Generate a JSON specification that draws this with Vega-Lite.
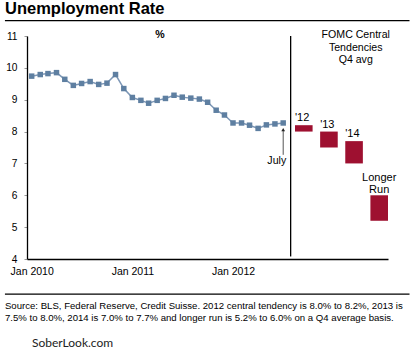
{
  "$schema": "https://vega.github.io/schema/vega-lite/v6.json",
  "width": 361,
  "height": 223,
  "autosize": {"type": "none"},
  "padding": {"left": 27, "top": 36, "right": 26, "bottom": 101},
  "background": "white",
  "title": {"text": "Unemployment Rate", "anchor": "start", "frame": "group", "dx": -22, "offset": 3, "font": "Liberation Sans", "fontSize": 16.5, "fontWeight": "bold", "color": "#000"},
  "config": {
    "view": {"stroke": null},
    "font": "Liberation Sans",
    "text": {"font": "Liberation Sans", "fontWeight": "normal"},
    "axisY": {"domainColor": "#000", "domainWidth": 1.3, "tickColor": "#999", "tickSize": 3, "tickCount": 8, "labelPadding": 7, "labelFont": "Liberation Sans", "labelFontSize": 10.2, "labelColor": "#000", "grid": false, "title": null},
    "axisX": {"domainColor": "#000", "domainWidth": 1.3, "ticks": false, "tickSize": 0, "tickCount": {"interval": "year"}, "labelExpr": "utcyear(datum.value) > 2012 ? '' : utcFormat(datum.value, '%b %Y')", "labelPadding": 7, "labelFont": "Liberation Sans", "labelFontSize": 10.5, "labelColor": "#000", "labelFlush": false, "grid": false, "title": null}
  },
  "resolve": {"scale": {"x": "independent"}},
  "layer": [
    {
      "data": {"values": [
        {"date": "2010-01-01", "rate": 9.74}, {"date": "2010-02-01", "rate": 9.79}, {"date": "2010-03-01", "rate": 9.82},
        {"date": "2010-04-01", "rate": 9.85}, {"date": "2010-05-01", "rate": 9.64}, {"date": "2010-06-01", "rate": 9.45},
        {"date": "2010-07-01", "rate": 9.51}, {"date": "2010-08-01", "rate": 9.57}, {"date": "2010-09-01", "rate": 9.48},
        {"date": "2010-10-01", "rate": 9.52}, {"date": "2010-11-01", "rate": 9.79}, {"date": "2010-12-01", "rate": 9.35},
        {"date": "2011-01-01", "rate": 9.07}, {"date": "2011-02-01", "rate": 8.98}, {"date": "2011-03-01", "rate": 8.89},
        {"date": "2011-04-01", "rate": 8.98}, {"date": "2011-05-01", "rate": 9.04}, {"date": "2011-06-01", "rate": 9.14},
        {"date": "2011-07-01", "rate": 9.08}, {"date": "2011-08-01", "rate": 9.05}, {"date": "2011-09-01", "rate": 9.02},
        {"date": "2011-10-01", "rate": 8.92}, {"date": "2011-11-01", "rate": 8.67}, {"date": "2011-12-01", "rate": 8.52},
        {"date": "2012-01-01", "rate": 8.27}, {"date": "2012-02-01", "rate": 8.27}, {"date": "2012-03-01", "rate": 8.20},
        {"date": "2012-04-01", "rate": 8.10}, {"date": "2012-05-01", "rate": 8.21}, {"date": "2012-06-01", "rate": 8.24},
        {"date": "2012-07-01", "rate": 8.27}
      ]},
      "encoding": {
        "x": {"field": "date", "type": "temporal",
              "scale": {"type": "utc", "domain": [{"year": 2009, "month": 12, "date": 15, "utc": true}, {"year": 2013, "month": 7, "date": 16, "utc": true}]}},
        "y": {"field": "rate", "type": "quantitative", "scale": {"domain": [4, 11], "nice": false, "zero": false}}
      },
      "layer": [
        {"mark": {"type": "line", "color": "#7D97B6", "strokeWidth": 1.5}},
        {"mark": {"type": "point", "shape": "square", "filled": true, "size": 30, "color": "#5E7FA1", "opacity": 1}},
        {"transform": [{"filter": "utcyear(datum.date) === 2012 && utcmonth(datum.date) === 6"}],
         "layer": [
          {"mark": {"type": "rule", "color": "#000", "strokeWidth": 1.3},
           "encoding": {"x": {"datum": {"year": 2012, "month": 7, "date": 28, "utc": true}, "type": "temporal"}, "y": {"datum": 11}, "y2": {"datum": 4.08}}},
          {"mark": {"type": "rule", "color": "#555", "strokeWidth": 1},
           "encoding": {"y": {"datum": 7.27}, "y2": {"datum": 8.04}}},
          {"mark": {"type": "point", "shape": "triangle-up", "filled": true, "size": 14, "color": "#222", "opacity": 1},
           "encoding": {"y": {"datum": 8.06}}},
          {"mark": {"type": "text", "text": "July", "font": "Liberation Sans", "fontSize": 10.6, "align": "right", "dx": 3, "baseline": "alphabetic", "fill": "#000"},
           "encoding": {"y": {"datum": 6.98}}},
          {"mark": {"type": "text", "text": "%", "font": "Liberation Sans", "fontSize": 10.6, "fontWeight": "bold", "align": "center", "baseline": "alphabetic", "fill": "#000"},
           "encoding": {"x": {"datum": {"year": 2011, "month": 4, "date": 11, "utc": true}, "type": "temporal"}, "y": {"datum": 10.93}}},
          {"mark": {"type": "text", "text": ["FOMC Central", "Tendencies", "Q4 avg"], "font": "Liberation Sans", "lineHeight": 12.3, "fontSize": 10.6, "align": "center", "baseline": "alphabetic", "fill": "#000"},
           "encoding": {"x": {"datum": {"year": 2013, "month": 3, "date": 21, "utc": true}, "type": "temporal"}, "y": {"datum": 10.93}}},
          {"mark": {"type": "rule", "color": "#000", "strokeWidth": 1.3},
           "encoding": {"x": {"datum": {"year": 2009, "month": 9, "date": 26, "utc": true}, "type": "temporal"}, "x2": {"datum": {"year": 2013, "month": 10, "date": 2, "utc": true}}, "y": {"datum": 11.48}}},
          {"mark": {"type": "rule", "color": "#000", "strokeWidth": 1.3},
           "encoding": {"x": {"datum": {"year": 2009, "month": 9, "date": 26, "utc": true}, "type": "temporal"}, "x2": {"datum": {"year": 2013, "month": 10, "date": 2, "utc": true}}, "y": {"datum": 2.90}}},
          {"mark": {"type": "text", "text": ["Source: BLS, Federal Reserve, Credit Suisse.  2012 central tendency is 8.0% to 8.2%, 2013 is", "7.5% to 8.0%, 2014 is 7.0% to 7.7% and longer run is 5.2% to 6.0% on a Q4 average basis."], "font": "Liberation Sans", "lineHeight": 12.3, "fontSize": 9.6, "align": "left", "baseline": "alphabetic", "fill": "#000"},
           "encoding": {"x": {"datum": {"year": 2009, "month": 9, "date": 26, "utc": true}, "type": "temporal"}, "y": {"datum": 2.43}}},
          {"mark": {"type": "text", "text": "SoberLook.com", "font": "Lato", "fontSize": 12, "align": "left", "baseline": "alphabetic", "fill": "#222"},
           "encoding": {"x": {"datum": {"year": 2010, "month": 1, "date": 2, "utc": true}, "type": "temporal"}, "y": {"datum": 1.23}}}
         ]}
      ]
    },
    {
      "data": {"values": [
        {"period": "'12", "low": 8.0, "high": 8.2},
        {"period": "'13", "low": 7.5, "high": 8.0},
        {"period": "'14", "low": 7.0, "high": 7.7},
        {"period": "Longer Run", "low": 5.2, "high": 6.0}
      ]},
      "encoding": {
        "x": {"field": "period", "type": "nominal", "sort": null, "scale": {"type": "band", "paddingInner": 0.3, "paddingOuter": 0, "range": [268, 361]}, "axis": null},
        "y": {"field": "high", "type": "quantitative", "scale": {"domain": [4, 11], "nice": false, "zero": false}}
      },
      "layer": [
        {"mark": {"type": "bar", "color": "#9E1030"},
         "encoding": {"y": {"field": "low", "type": "quantitative"}, "y2": {"field": "high"}}},
        {"transform": [{"filter": "datum.period !== 'Longer Run'"}],
         "mark": {"type": "text", "font": "Liberation Sans", "align": "left", "baseline": "bottom", "dy": -2, "fontSize": 11, "fill": "#000"},
         "encoding": {"x": {"field": "period", "type": "nominal", "sort": null, "bandPosition": 0}, "text": {"field": "period"}}},
        {"transform": [{"filter": "datum.period === 'Longer Run'"}],
         "mark": {"type": "text", "font": "Liberation Sans", "align": "center", "baseline": "alphabetic", "dy": -14.7, "fontSize": 11, "lineBreak": " ", "lineHeight": 12.3, "fill": "#000"},
         "encoding": {"text": {"field": "period"}}}
      ]
    }
  ]
}
